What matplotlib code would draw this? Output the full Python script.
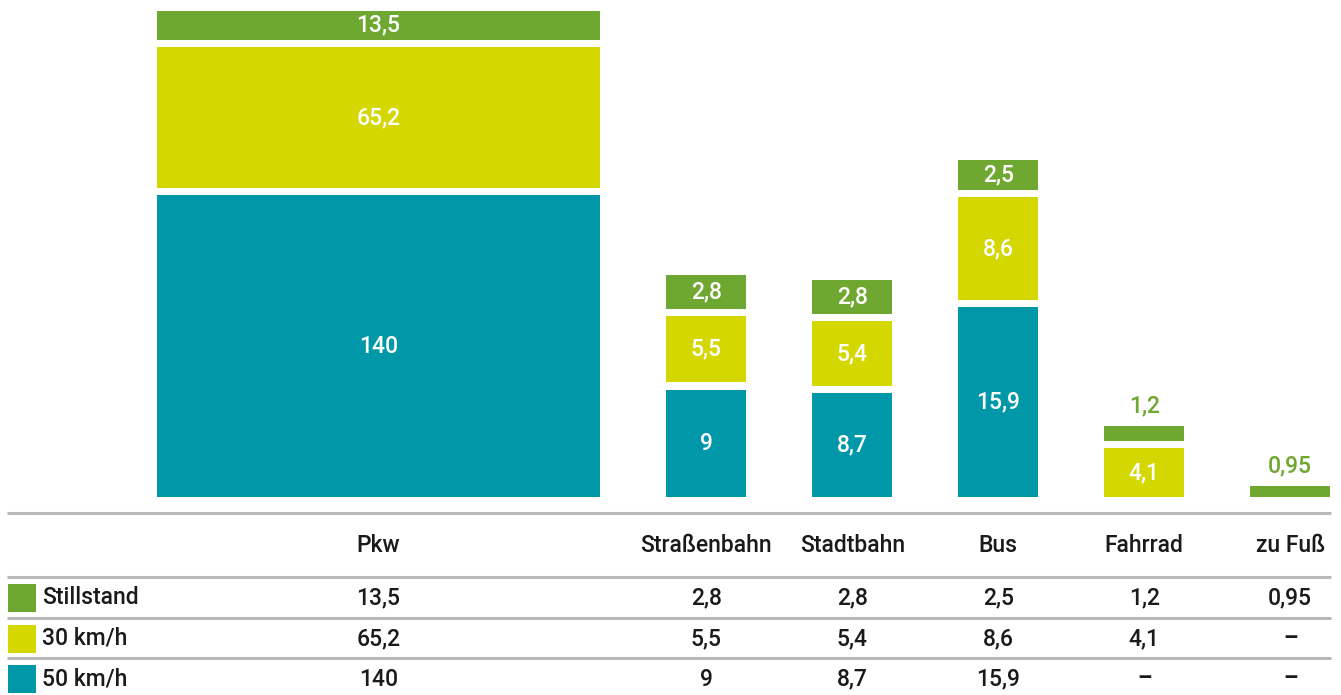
import matplotlib
matplotlib.use("Agg")
import matplotlib.pyplot as plt

# ---- data ----
categories = ["Pkw", "Straßenbahn", "Stadtbahn", "Bus", "Fahrrad", "zu Fuß"]
series_names = ["Stillstand", "30 km/h", "50 km/h"]
stillstand = [13.5, 2.8, 2.8, 2.5, 1.2, 0.95]
kmh30 = [65.2, 5.5, 5.4, 8.6, 4.1, None]
kmh50 = [140, 9, 8.7, 15.9, None, None]
# relative bar widths (space demand)
rel_width = [5.54, 1, 1, 1, 1, 1]

colors = {"Stillstand": "#6FA830", "30 km/h": "#D5D700", "50 km/h": "#0097A8"}

def fmt(v):
    if v is None:
        return "–"
    s = f"{v:g}"
    return s.replace(".", ",")

plt.rcParams['font.family'] = ['Roboto', 'DejaVu Sans']
W, H = 1341, 695
fig = plt.figure(figsize=(W / 100, H / 100), dpi=100)
ax = fig.add_axes([0, 0, 1, 1])
ax.set_xlim(0, W)
ax.set_ylim(H, 0)
ax.axis("off")

base = 497
unit_w = 80
area = 955  # px^2 per unit value
gap_x = 66
gap_y = 7.5
left = 157
fs = 16.5
fw = "medium"
txt = "#1a1a1a"

centers = []
x = left
for i, cat in enumerate(categories):
    w = rel_width[i] * unit_w
    centers.append(x + w / 2)
    y = base
    stack = [("50 km/h", kmh50[i]), ("30 km/h", kmh30[i]), ("Stillstand", stillstand[i])]
    for name, v in stack:
        if v is None:
            continue
        h = v * area / w
        ax.bar(x, -h, width=w, bottom=y, align="edge", color=colors[name], linewidth=0)
        if h >= 22:
            ax.text(x + w / 2, y - h / 2, fmt(v), ha="center", va="center",
                    color="white", fontsize=fs, fontweight=fw)
        else:
            ax.text(x + w / 2, y - h - 20, fmt(v), ha="center", va="center",
                    color=colors[name], fontsize=fs, fontweight=fw)
        y = y - h - gap_y
    x += w + gap_x

# ---- table ----
line_color = "#b9b9b9"
for ly, lw in [(513, 2.2), (577, 2.2), (617.5, 2.2), (658, 2.2)]:
    ax.plot([7, 1331], [ly, ly], color=line_color, linewidth=lw, solid_capstyle="butt")

header_y = 546
for c, cat in zip(centers, categories):
    ax.text(c, header_y, cat, ha="center", va="center", color=txt, fontsize=fs, fontweight=fw)

row_y = [598, 638.5, 679]
rows = [stillstand, kmh30, kmh50]
for ry, name, vals in zip(row_y, series_names, rows):
    ax.add_patch(plt.Rectangle((8, ry - 14), 28, 28, color=colors[name], linewidth=0))
    ax.text(42, ry, name, ha="left", va="center", color=txt, fontsize=fs, fontweight=fw)
    for c, v in zip(centers, vals):
        ax.text(c, ry, fmt(v), ha="center", va="center", color=txt, fontsize=fs,
                fontweight="bold" if v is None else fw)

fig.savefig("out.png", dpi=100)
